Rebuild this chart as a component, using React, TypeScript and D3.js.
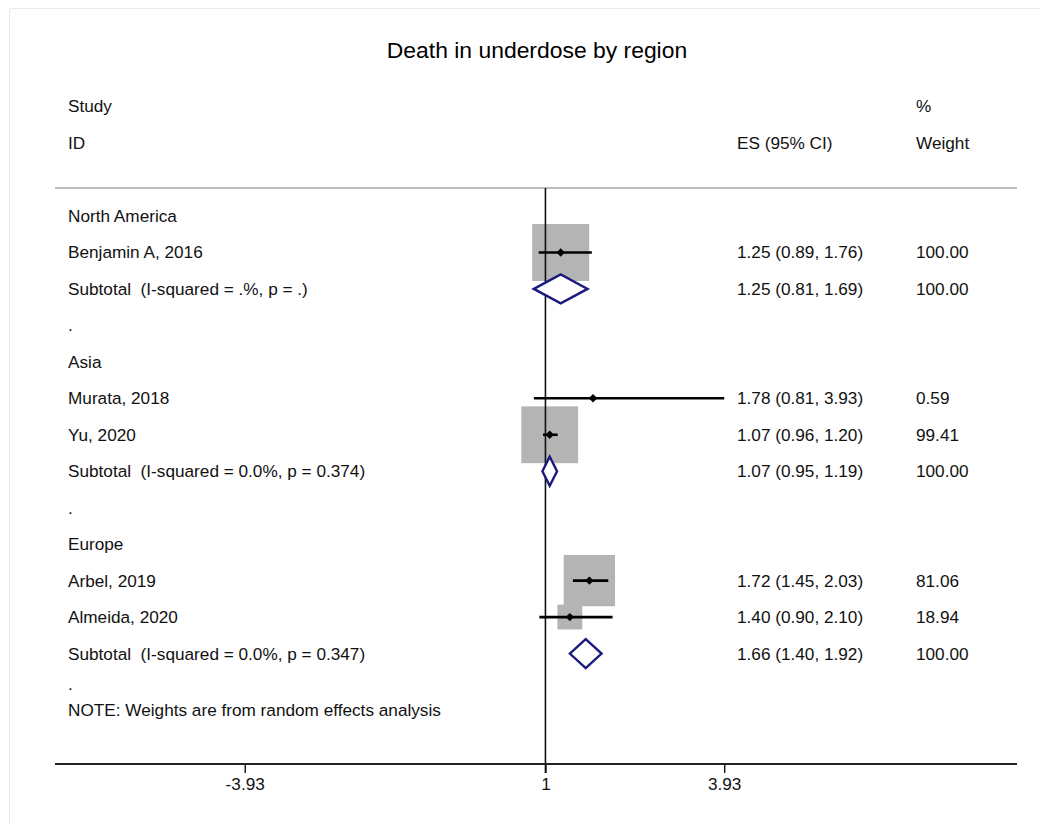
import React, { useEffect, useRef } from "react";
import * as d3 from "d3";

// forest plot rows, top to bottom (row index = slot in the table)
const rowLabels = [
  "North America",
  "Benjamin A, 2016",
  "Subtotal  (I-squared = .%, p = .)",
  ".",
  "Asia",
  "Murata, 2018",
  "Yu, 2020",
  "Subtotal  (I-squared = 0.0%, p = 0.374)",
  ".",
  "Europe",
  "Arbel, 2019",
  "Almeida, 2020",
  "Subtotal  (I-squared = 0.0%, p = 0.347)",
  ".",
];

// studies: row, es, lower, upper, weight
const studyRows = [1, 5, 6, 10, 11];
const studyES = [1.25, 1.78, 1.07, 1.72, 1.4];
const studyLo = [0.89, 0.81, 0.96, 1.45, 0.9];
const studyHi = [1.76, 3.93, 1.2, 2.03, 2.1];
const studyWeight = ["100.00", "0.59", "99.41", "81.06", "18.94"];

const subRows = [2, 7, 12];
const subES = [1.25, 1.07, 1.66];
const subLo = [0.81, 0.95, 1.4];
const subHi = [1.69, 1.19, 1.92];
const subWeight = ["100.00", "100.00", "100.00"];

const axisTicks = [-3.93, 1, 3.93];

const FONT = "'Liberation Sans', Arial, sans-serif";

export default function App() {
  const ref = useRef<SVGSVGElement>(null);

  useEffect(() => {
    const width = 1040;
    const height = 825;
    const svg = d3.select(ref.current);
    svg.selectAll("*").remove();

    const x = d3.scaleLinear().domain([-7.04, 8.73]).range([55, 1017]);
    const y = d3.scaleLinear().domain([0, 13]).range([216, 690]);
    const fs = 17.2;

    svg.append("rect").attr("width", width).attr("height", height).attr("fill", "#fff");

    // faint frame
    svg.append("path")
      .attr("d", "M9.5,825 V8.5 H1040")
      .attr("fill", "none")
      .attr("stroke", "#e4eeeb")
      .attr("stroke-width", 1);

    svg.append("text")
      .attr("x", 537)
      .attr("y", 50)
      .attr("dy", "0.35em")
      .attr("text-anchor", "middle")
      .style("font-family", FONT)
      .style("font-size", "22.9px")
      .text("Death in underdose by region");

    const txt = (tx: number, ty: number, s: string) =>
      svg.append("text")
        .attr("x", tx)
        .attr("y", ty)
        .attr("dy", "0.35em")
        .style("font-family", FONT)
        .style("font-size", fs + "px")
        .style("white-space", "pre")
        .attr("fill", "#111")
        .text(s);

    txt(68, 106, "Study");
    txt(68, 143, "ID");
    txt(737, 143, "ES (95% CI)");
    txt(916, 106, "%");
    txt(916, 143, "Weight");

    // top rule
    svg.append("line")
      .attr("x1", 55).attr("x2", 1017)
      .attr("y1", 188).attr("y2", 188)
      .attr("stroke", "#bdbdbd")
      .attr("stroke-width", 2);

    rowLabels.forEach((l, i) => {
      if (i === 13) {
        txt(68, y(i) - 6, l);
      } else {
        txt(68, y(i), l);
      }
    });
    txt(68, 710, "NOTE: Weights are from random effects analysis");

    // weight boxes
    const boxMax = 57;
    studyRows.forEach((r, i) => {
      const s = boxMax * Math.sqrt(+studyWeight[i] / 100);
      svg.append("rect")
        .attr("x", x(studyES[i]) - s / 2)
        .attr("y", y(r) - s / 2)
        .attr("width", s)
        .attr("height", s)
        .attr("fill", "#b4b4b4");
    });

    // null line
    svg.append("line")
      .attr("x1", x(1)).attr("x2", x(1))
      .attr("y1", 188).attr("y2", 773)
      .attr("stroke", "#111")
      .attr("stroke-width", 1.6);

    // CIs + point markers
    studyRows.forEach((r, i) => {
      svg.append("line")
        .attr("x1", x(studyLo[i])).attr("x2", x(studyHi[i]))
        .attr("y1", y(r)).attr("y2", y(r))
        .attr("stroke", "#000")
        .attr("stroke-width", 2.6);
      const cx = x(studyES[i]);
      const cy = y(r);
      const d = 4.2;
      svg.append("path")
        .attr("d", `M${cx - d},${cy} L${cx},${cy - d} L${cx + d},${cy} L${cx},${cy + d} Z`)
        .attr("fill", "#000");
      txt(737, y(r), `${studyES[i].toFixed(2)} (${studyLo[i].toFixed(2)}, ${studyHi[i].toFixed(2)})`);
      txt(916, y(r), studyWeight[i]);
    });

    // subtotal diamonds
    subRows.forEach((r, i) => {
      const cy = y(r);
      const h = 14.5;
      svg.append("path")
        .attr("d", `M${x(subLo[i])},${cy} L${x(subES[i])},${cy - h} L${x(subHi[i])},${cy} L${x(subES[i])},${cy + h} Z`)
        .attr("fill", "#fff")
        .attr("stroke", "#1a1a80")
        .attr("stroke-width", 2.4);
      txt(737, cy, `${subES[i].toFixed(2)} (${subLo[i].toFixed(2)}, ${subHi[i].toFixed(2)})`);
      txt(916, cy, subWeight[i]);
    });

    // x axis
    const axis = d3.axisBottom(x)
      .tickValues(axisTicks)
      .tickSize(9)
      .tickPadding(5)
      .tickFormat((d) => (d === 1 ? "1" : (d as number).toFixed(2)));
    const g = svg.append("g").attr("transform", "translate(0,764)").call(axis);
    g.select(".domain").remove();
    g.append("line")
      .attr("x1", 55).attr("x2", 1017)
      .attr("stroke", "#222")
      .attr("stroke-width", 2.2);
    g.selectAll(".tick line").attr("stroke", "#111").attr("stroke-width", 1.4);
    g.selectAll(".tick text")
      .attr("fill", "#111")
      .style("font-family", FONT)
      .style("font-size", fs + "px");
  }, []);

  return (
    <svg
      ref={ref}
      width={1040}
      height={825}
      style={{ position: "absolute", left: 0, top: 0 }}
    />
  );
}
